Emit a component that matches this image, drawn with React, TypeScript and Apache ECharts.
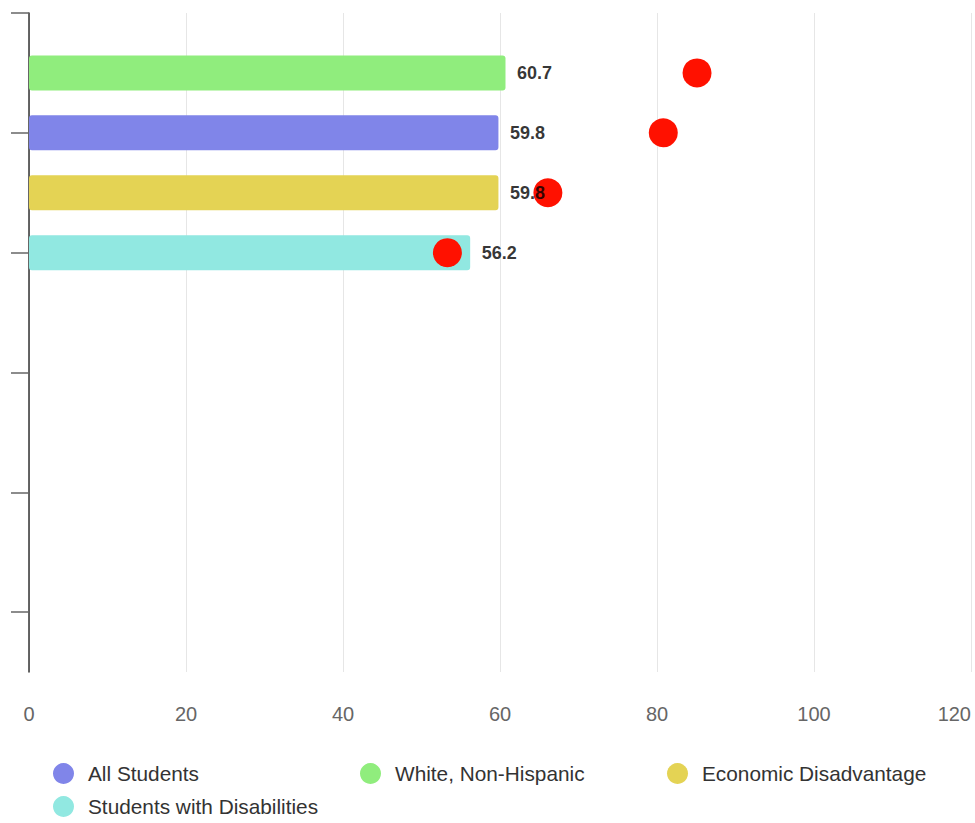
import React, { useEffect, useRef } from 'react';
import * as echarts from 'echarts';

// category slots on the vertical axis (labels hidden)
const slots = ['s0', 's1', 's2', 's3', 's4', 's5', 's6', 's7', 's8', 's9', 's10', 's11'];

// student groups
const groupNames = ['All Students', 'White, Non-Hispanic', 'Economic Disadvantage', 'Students with Disabilities'];
const groupSlots = ['s2', 's1', 's3', 's4'];
const groupValues = [59.8, 60.7, 59.8, 56.2];
const groupColors = ['#8085e9', '#90ed7d', '#e4d354', '#91e8e1'];

// red target markers
const targetValues = [80.8, 85.1, 66.1, 53.3];

// x axis
const xMin = 0;
const xMax = 120;
const xInterval = 20;

const FONT = '"Liberation Sans", Arial, sans-serif';

export default function App() {
  const ref = useRef<HTMLDivElement>(null);

  useEffect(() => {
    if (!ref.current) return;
    const chart = echarts.init(ref.current, undefined, { renderer: 'svg' });

    const barSeries = groupNames.map((name, i) => ({
      name,
      type: 'bar',
      stack: 'groups',
      barWidth: 35,
      z: 2,
      data: slots.map((s) => (s === groupSlots[i] ? groupValues[i] : '-')),
      itemStyle: { color: groupColors[i], borderRadius: 3 },
    }));

    const scatter = {
      name: 'Target',
      type: 'scatter',
      symbol: 'circle',
      symbolSize: 29,
      z: 3,
      itemStyle: { color: '#ff1100', opacity: 1 },
      data: groupSlots.map((s, i) => [targetValues[i], s]),
    };

    // value labels drawn above the markers
    const valueLabels = {
      name: 'Values',
      type: 'scatter',
      symbol: 'circle',
      symbolSize: 1,
      z: 4,
      silent: true,
      itemStyle: { color: 'rgba(0,0,0,0)' },
      label: {
        show: true,
        position: 'right',
        distance: 11,
        color: '#000',
        fontWeight: 'bold',
        fontSize: 18,
        fontFamily: FONT,
        formatter: (p: any) => String(p.value[0]),
      },
      data: groupSlots.map((s, i) => [groupValues[i], s]),
    };

    const legendCommon = {
      orient: 'vertical',
      top: 763,
      padding: 0,
      height: 60,
      icon: 'circle',
      itemWidth: 21,
      itemHeight: 21,
      itemGap: 12,
      textStyle: { fontSize: 20.8, color: '#333', fontFamily: FONT, padding: [0, 0, 0, 9] },
    };

    chart.setOption({
      animation: false,
      textStyle: { fontFamily: FONT },
      grid: { left: 29, right: 4, top: 13, bottom: 151, containLabel: false },
      legend: [
        { ...legendCommon, left: 53, data: ['All Students', 'Students with Disabilities'] },
        { ...legendCommon, left: 360, data: ['White, Non-Hispanic'] },
        { ...legendCommon, left: 667, data: ['Economic Disadvantage'] },
      ],
      xAxis: {
        type: 'value',
        min: xMin,
        max: xMax,
        interval: xInterval,
        axisLine: { show: false },
        axisTick: { show: false },
        axisLabel: {
          color: '#666',
          fontSize: 20,
          fontFamily: FONT,
          margin: 32,
          alignMaxLabel: 'right',
        },
        splitLine: { show: true, lineStyle: { color: '#e6e6e6', width: 1 } },
      },
      yAxis: {
        type: 'category',
        inverse: true,
        boundaryGap: false,
        data: slots,
        axisLine: { show: true, lineStyle: { color: '#333', width: 1.5 } },
        axisTick: { show: true, length: 18, interval: 1, lineStyle: { color: '#666', width: 1.5 } },
        axisLabel: { show: false },
        splitLine: { show: false },
      },
      series: [...barSeries, scatter, valueLabels],
    });

    return () => chart.dispose();
  }, []);

  return (
    <div
      ref={ref}
      style={{ position: 'fixed', left: 0, top: 0, width: 975, height: 823, background: '#fff' }}
    />
  );
}
